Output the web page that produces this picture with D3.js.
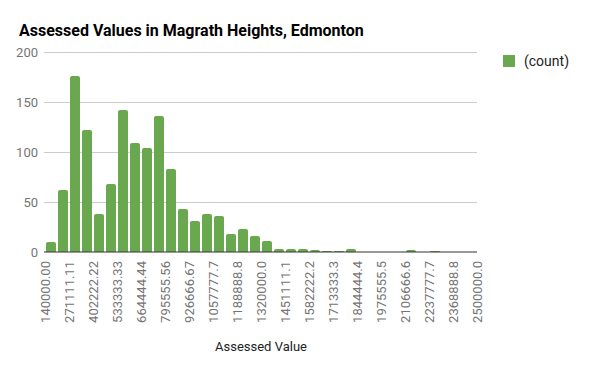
<!DOCTYPE html>
<html>
<head>
<meta charset="utf-8">
<script src="https://cdn.jsdelivr.net/npm/d3@7"></script>
<style>
  body { margin: 0; background: #fff; }
  text { font-family: Roboto, "Noto Sans", sans-serif; }
</style>
</head>
<body>
<div id="chart"></div>
<script>
// histogram counts, 36 bins of equal width
var counts = [10, 62, 176, 122, 38, 68, 142, 109, 104, 136, 83, 43, 31, 38, 36, 18, 23, 16,
              11, 3, 3, 3, 2, 1, 1, 3, 0, 0, 0, 0, 2, 0, 1, 0, 0, 0];
var binMin = 140000, binMax = 2500000;
var tickLabels = ["140000.00", "271111.11", "402222.22", "533333.33", "664444.44", "795555.56",
                  "926666.67", "1057777.7", "1188888.8", "1320000.0", "1451111.1", "1582222.2",
                  "1713333.3", "1844444.4", "1975555.5", "2106666.6", "2237777.7", "2368888.8",
                  "2500000.0"];
var yTicks = [0, 50, 100, 150, 200];

var width = 600, height = 371;
var margin = { top: 52, right: 123, bottom: 119, left: 45 };

var svg = d3.select("#chart").append("svg")
    .attr("width", width)
    .attr("height", height);

var binWidth = (binMax - binMin) / counts.length;

var x = d3.scaleLinear()
    .domain([binMin, binMax])
    .range([margin.left, width - margin.right]);

var y = d3.scaleLinear()
    .domain([0, 200])
    .range([height - margin.bottom, margin.top]);

// title
svg.append("text")
    .attr("x", 19)
    .attr("y", 36)
    .attr("font-size", 16)
    .attr("font-weight", "bold")
    .attr("fill", "#000")
    .text("Assessed Values in Magrath Heights, Edmonton");

// gridlines
svg.append("g").selectAll("line")
    .data(yTicks.slice(1))
    .enter().append("line")
    .attr("x1", x(binMin) - 1)
    .attr("x2", x(binMax))
    .attr("y1", function(d) { return Math.round(y(d)) + 0.5; })
    .attr("y2", function(d) { return Math.round(y(d)) + 0.5; })
    .attr("stroke", "#cccccc");

// y labels
svg.append("g").selectAll("text")
    .data(yTicks)
    .enter().append("text")
    .attr("x", 38)
    .attr("y", function(d) { return y(d) + 4.5; })
    .attr("text-anchor", "end")
    .attr("font-size", 13)
    .attr("fill", "#757575")
    .text(function(d) { return d; });

// bars with rounded tops
var r = 2;
svg.append("g").selectAll("path")
    .data(counts.map(function(c, i) { return { i: i, c: c }; }).filter(function(d) { return d.c > 0; }))
    .enter().append("path")
    .attr("fill", "#6aa84f")
    .attr("d", function(d) {
        var x0 = x(binMin + d.i * binWidth) + 1;
        var x1 = x(binMin + (d.i + 1) * binWidth) - 1;
        var yb = y(0), yt = y(d.c);
        var rr = Math.min(r, (yb - yt));
        return "M" + x0 + "," + yb +
            "L" + x0 + "," + (yt + rr) +
            "Q" + x0 + "," + yt + " " + (x0 + rr) + "," + yt +
            "L" + (x1 - rr) + "," + yt +
            "Q" + x1 + "," + yt + " " + x1 + "," + (yt + rr) +
            "L" + x1 + "," + yb + "Z";
    });

// baseline
svg.append("line")
    .attr("x1", x(binMin) - 1)
    .attr("x2", x(binMax))
    .attr("y1", y(0))
    .attr("y2", y(0))
    .attr("stroke", "#333")
    .attr("stroke-width", 1.2);

// x labels, rotated
svg.append("g").selectAll("text")
    .data(tickLabels)
    .enter().append("text")
    .attr("transform", function(d, i) {
        var xp = x(binMin + i * 2 * binWidth);
        return "translate(" + (xp + 4.5) + "," + 261 + ") rotate(-90)";
    })
    .attr("text-anchor", "end")
    .attr("font-size", 13)
    .attr("fill", "#757575")
    .text(function(d) { return d; });

// axis title
svg.append("text")
    .attr("x", 261)
    .attr("y", 351)
    .attr("text-anchor", "middle")
    .attr("font-size", 13)
    .attr("fill", "#222")
    .text("Assessed Value");

// legend
svg.append("rect")
    .attr("x", 503)
    .attr("y", 55)
    .attr("width", 12)
    .attr("height", 12)
    .attr("fill", "#6aa84f");
svg.append("text")
    .attr("x", 524)
    .attr("y", 66)
    .attr("font-size", 14)
    .attr("fill", "#222")
    .text("(count)");
</script>
</body>
</html>
